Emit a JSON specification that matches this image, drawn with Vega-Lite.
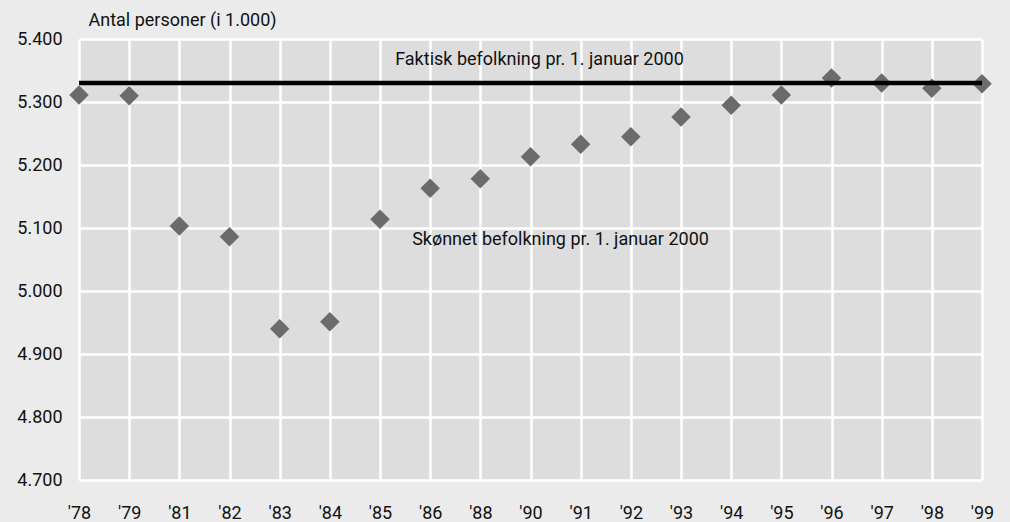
{
  "$schema": "https://vega.github.io/schema/vega-lite/v6.json",
  "autosize": "none",
  "width": 903,
  "height": 441,
  "padding": {"left": 79, "top": 39, "right": 28, "bottom": 42},
  "background": "#ebebeb",
  "config": {
    "font": "Roboto",
    "view": {"fill": "#dddddd", "stroke": null},
    "axis": {"grid": true, "gridColor": "#ffffff", "gridWidth": 2.5, "gridOpacity": 1, "domain": false, "ticks": false, "labelFont": "Roboto", "labelFontSize": 18, "labelColor": "#111111"}
  },
  "datasets": {
    "points": [
      {"year": "'78", "value": 5311},
      {"year": "'79", "value": 5310},
      {"year": "'81", "value": 5103},
      {"year": "'82", "value": 5086},
      {"year": "'83", "value": 4940},
      {"year": "'84", "value": 4951},
      {"year": "'85", "value": 5114},
      {"year": "'86", "value": 5163},
      {"year": "'88", "value": 5178},
      {"year": "'90", "value": 5213},
      {"year": "'91", "value": 5233},
      {"year": "'92", "value": 5245},
      {"year": "'93", "value": 5276},
      {"year": "'94", "value": 5295},
      {"year": "'95", "value": 5311},
      {"year": "'96", "value": 5338},
      {"year": "'97", "value": 5330},
      {"year": "'98", "value": 5322},
      {"year": "'99", "value": 5329}
    ],
    "actual": [{"value": 5330}],
    "label1": [{"year": "'90", "value": 5367, "label": "Faktisk befolkning pr. 1. januar 2000"}],
    "label2": [{"year": "'90", "value": 5081, "label": "Skønnet befolkning pr. 1. januar 2000"}]
  },
  "layer": [
    {
      "data": {"name": "points"},
      "mark": {"type": "point", "shape": "diamond", "filled": true, "size": 380, "color": "#6b6b6b", "opacity": 1},
      "encoding": {
        "x": {"field": "year", "type": "ordinal", "sort": null,
              "scale": {"type": "point", "padding": 0},
              "axis": {"title": null, "labelAngle": 0, "labelPadding": 24}},
        "y": {"field": "value", "type": "quantitative",
              "scale": {"domain": [4700, 5400], "zero": false, "nice": false},
              "axis": {"values": [4700, 4800, 4900, 5000, 5100, 5200, 5300, 5400],
                       "labelExpr": "replace(format(datum.value, ',.0f'), ',', '.')",
                       "labelPadding": 17,
                       "title": "Antal personer (i 1.000)", "titleAngle": 0, "titleAlign": "left", "titleBaseline": "middle",
                       "titleX": 9, "titleY": -19, "titleFont": "Roboto", "titleFontSize": 18, "titleFontWeight": "normal", "titleColor": "#111111"}}
      }
    },
    {
      "data": {"name": "actual"},
      "mark": {"type": "rule", "color": "#000000", "strokeWidth": 4.5},
      "encoding": {"y": {"field": "value", "type": "quantitative"}}
    },
    {
      "data": {"name": "label1"},
      "mark": {"type": "text", "fontSize": 18, "font": "Roboto", "color": "#111111", "baseline": "middle", "align": "center", "dx": 9},
      "encoding": {
        "x": {"field": "year", "type": "ordinal", "sort": null},
        "y": {"field": "value", "type": "quantitative"},
        "text": {"field": "label"}
      }
    },
    {
      "data": {"name": "label2"},
      "mark": {"type": "text", "fontSize": 18, "font": "Roboto", "color": "#111111", "baseline": "middle", "align": "center", "dx": 30},
      "encoding": {
        "x": {"field": "year", "type": "ordinal", "sort": null},
        "y": {"field": "value", "type": "quantitative"},
        "text": {"field": "label"}
      }
    }
  ]
}
